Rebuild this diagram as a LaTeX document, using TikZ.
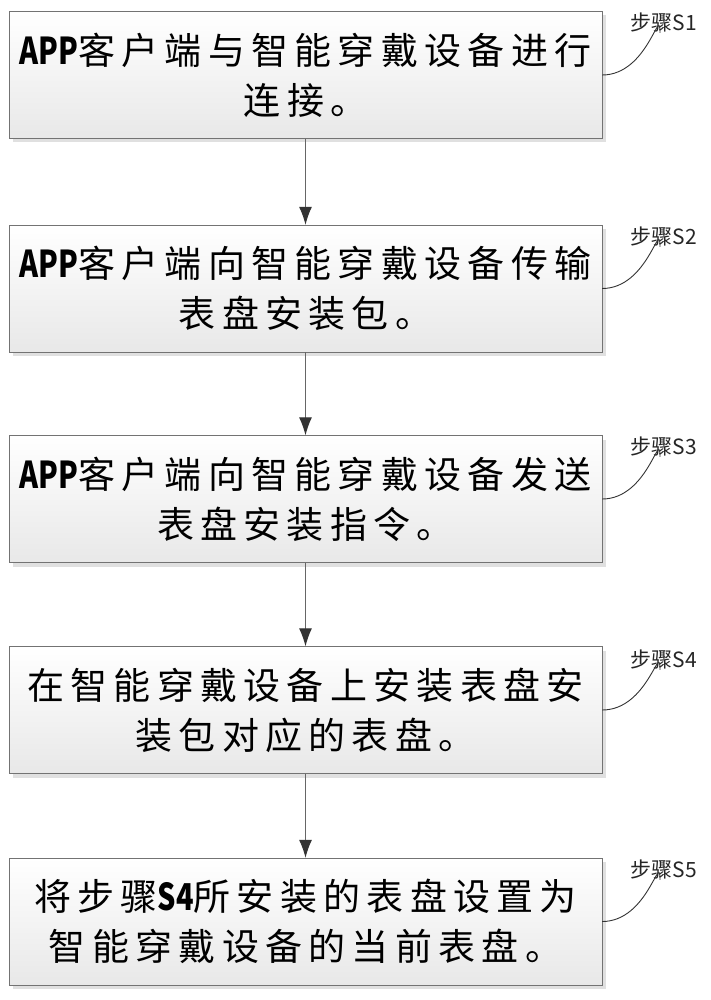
\documentclass[tikz,border=0pt]{standalone}
\usepackage{fontspec}
\usetikzlibrary{arrows.meta,shadows}
\newfontfamily\cjk[LetterSpace=17]{Noto Sans CJK SC}
\newfontfamily\cjklabel{Noto Sans CJK SC}
\newfontfamily\latfont[FakeStretch=0.78]{Noto Sans CJK SC}
\newcommand{\lat}[1]{{\latfont\bfseries #1}}
\newcommand{\latl}[1]{{\cjklabel #1}}

\tikzset{
  stepbox/.style={draw=black!55, rectangle, minimum width=593pt, minimum height=127pt,
    inner sep=0pt, top color=white, bottom color=black!9, align=center,
    drop shadow={shadow xshift=4pt, shadow yshift=-4pt, fill=black!12, opacity=1},
    font=\cjk\fontsize{37pt}{50pt}\selectfont},
  steplabel/.style={inner sep=1pt, font=\cjklabel\fontsize{21pt}{23pt}\selectfont, text=black!85},
  flow/.style={draw=black!60, line width=1pt, -{Latex[length=18pt,width=13pt,color=black!80]}},
  leader/.style={draw=black!80, line width=0.9pt}
}

\begin{document}
\begin{tikzpicture}[x=1pt,y=-1pt]
\useasboundingbox (0,0) rectangle (710,1000);

\node[stepbox] (s1) at (305.5,75) {\lat{APP}客户端与智能穿戴设备进行\\连接。};
\node[stepbox] (s2) at (305.5,288.5) {\lat{APP}客户端向智能穿戴设备传输\\表盘安装包。};
\node[stepbox] (s3) at (305.5,499) {\lat{APP}客户端向智能穿戴设备发送\\表盘安装指令。};
\node[stepbox] (s4) at (305.5,710) {在智能穿戴设备上安装表盘安\\装包对应的表盘。};
\node[stepbox] (s5) at (305.5,921.5) {将步骤\lat{S4}所安装的表盘设置为\\智能穿戴设备的当前表盘。};

\node[steplabel] (l1) at (664,22) {步骤\latl{S1}};
\node[steplabel] (l2) at (664,236) {步骤\latl{S2}};
\node[steplabel] (l3) at (664,446) {步骤\latl{S3}};
\node[steplabel] (l4) at (664,659) {步骤\latl{S4}};
\node[steplabel] (l5) at (664,869) {步骤\latl{S5}};

\path[flow] (s1) -- (s2);
\path[flow] (s2) -- (s3);
\path[flow] (s3) -- (s4);
\path[flow] (s4) -- (s5);

\path[leader] (s1.east) .. controls +(46,0) and +(0,-30) .. ([xshift=-4pt]l1.south);
\path[leader] (s2.east) .. controls +(46,0) and +(0,-30) .. ([xshift=-4pt]l2.south);
\path[leader] (s3.east) .. controls +(46,0) and +(0,-30) .. ([xshift=-4pt]l3.south);
\path[leader] (s4.east) .. controls +(46,0) and +(0,-30) .. ([xshift=-4pt]l4.south);
\path[leader] (s5.east) .. controls +(46,0) and +(0,-30) .. ([xshift=-4pt]l5.south);
\end{tikzpicture}
\end{document}
